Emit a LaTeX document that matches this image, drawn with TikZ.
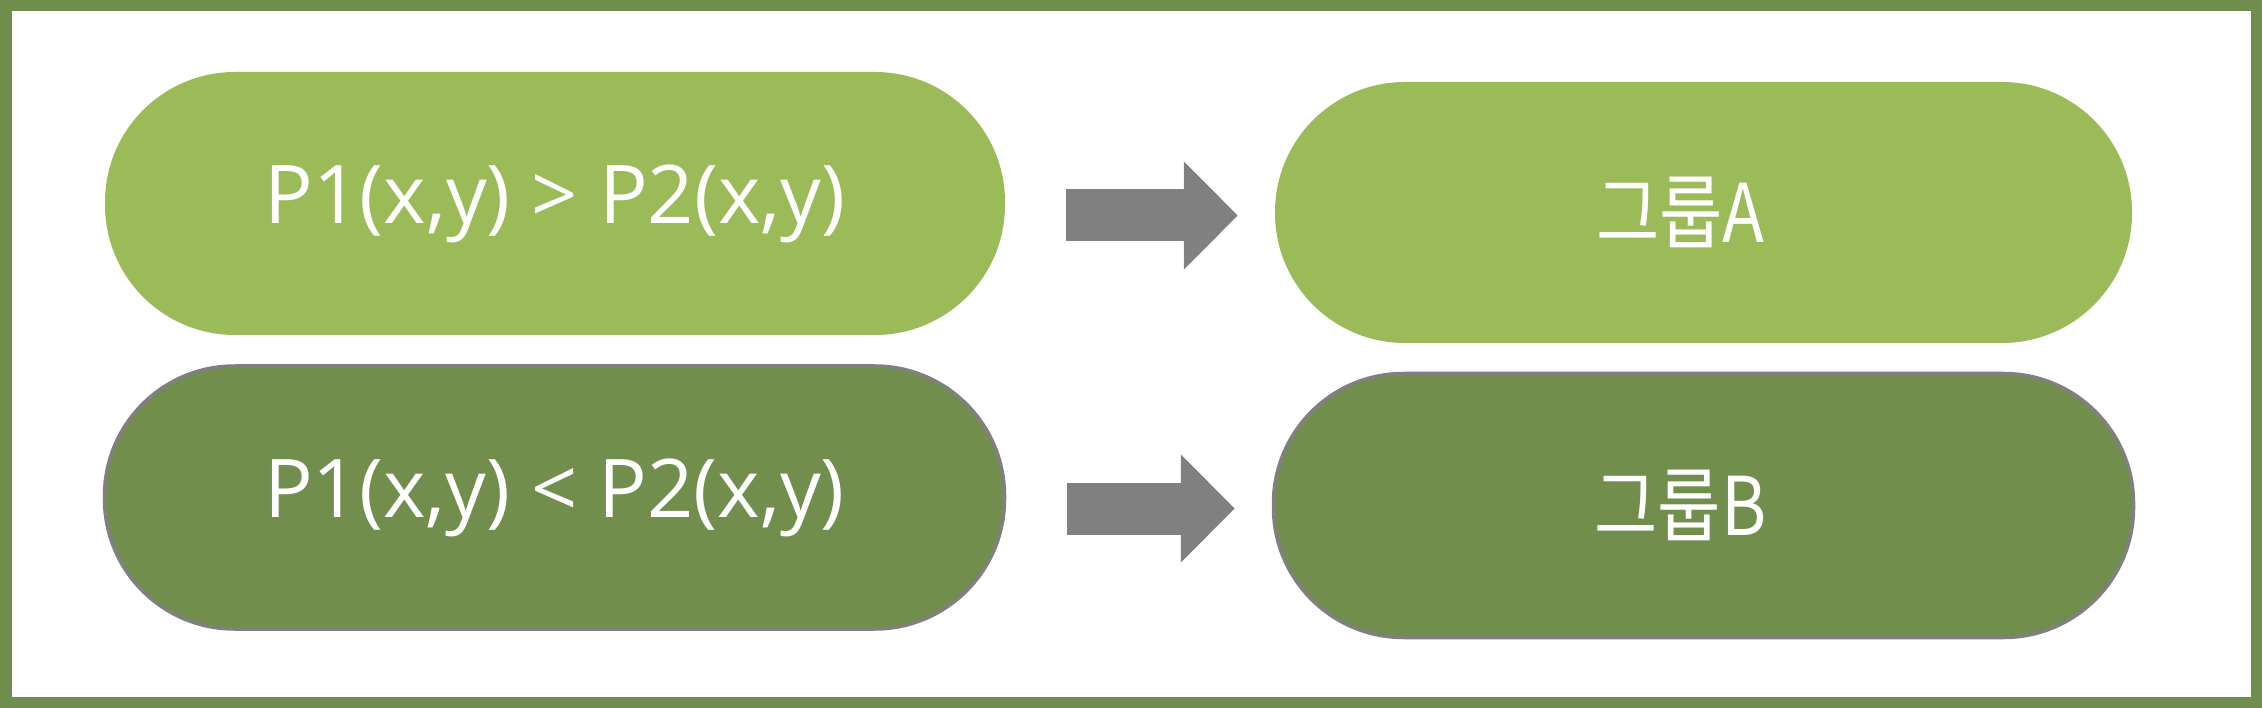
\documentclass[tikz,border=0pt]{standalone}
\usepackage{fontspec}
\setmainfont{Open Sans}
\newfontfamily\krfont[FakeStretch=0.85]{Noto Sans CJK KR}
\usetikzlibrary{arrows.meta}
\definecolor{lightgreen}{HTML}{9BBB59}
\definecolor{darkgreen}{HTML}{718E4C}
\definecolor{framegreen}{HTML}{6F8D4C}
\definecolor{arrowgray}{HTML}{808080}
\tikzset{
    pill/.style={rectangle, rounded corners=130pt, minimum width=900pt, minimum height=263pt,
        inner sep=0pt, text=white, font=\fontsize{81}{97}\selectfont},
    lightpill/.style={pill, fill=lightgreen},
    darkpill/.style={pill, fill=darkgreen, draw=arrowgray, line width=3.5pt},
    bigarrow/.style={draw=arrowgray, line width=52pt, -{Triangle[length=54pt,width=105pt]}}
}
\begin{document}
\begin{tikzpicture}[x=1pt, y=-1pt]
    \useasboundingbox (0, 0) rectangle (2262, 708);
    \draw[framegreen, line width=11.5pt] (5.75, 5.75) rectangle (2256.25, 702.25);
    \node[lightpill] (c1) at (555, 203.5) {P1(x,y) > P2(x,y)};
    \node[darkpill] (c2) at (554.5, 497.5) {P1(x,y) < P2(x,y)};
    \node[lightpill, minimum width=857pt, minimum height=261pt] (g1) at (1703.5, 212.5) {\krfont 그룹A\hspace*{46pt}};
    \node[darkpill, minimum width=860pt, minimum height=264pt] (g2) at (1703.5, 505.5) {\krfont 그룹B\hspace*{46pt}};
    \draw[bigarrow] ([xshift=61pt, yshift=-3pt]c1.east |- g1.west) -- ([xshift=-37pt, yshift=-3pt]g1.west);
    \draw[bigarrow] ([xshift=61pt, yshift=-3pt]c2.east |- g2.west) -- ([xshift=-37pt, yshift=-3pt]g2.west);
\end{tikzpicture}
\end{document}
